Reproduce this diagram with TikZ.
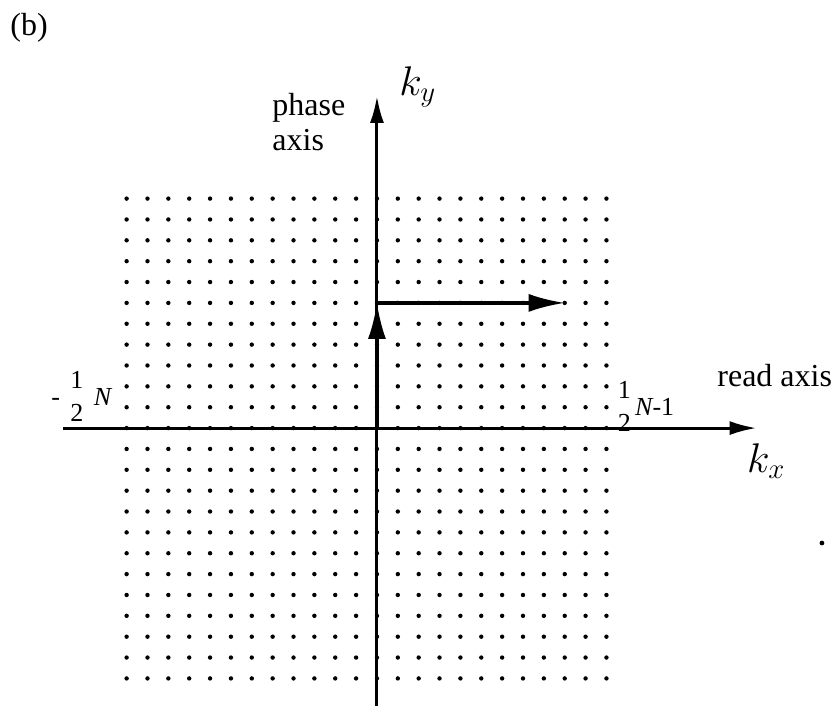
\documentclass[tikz,border=0pt]{standalone}
\usepackage{amsmath}
\usepackage{fontspec}
\setmainfont{Liberation Serif}
\usepackage{tikz}
\usetikzlibrary{arrows.meta}

\tikzset{
  kaxis/.style={line width=1.5pt,-{Latex[length=13.5pt,width=7pt]}},
  kstep/.style={line width=1.6pt,-{Latex[length=18pt,width=9pt]}},
  lbltext/.style={inner sep=0pt,font=\fontsize{16}{17.5}\selectfont},
  klbl/.style={inner sep=0pt,font=\fontsize{20}{22}\selectfont},
  edgelbl/.style={inner sep=0pt,font=\fontsize{13}{14}\selectfont},
}
\newcommand{\halfN}{\genfrac{}{}{0pt}{0}{\text{1}}{\text{2}}}

\begin{document}
\begin{tikzpicture}[>=Latex,x=10.43pt,y=10.43pt]
  \useasboundingbox (-18.07,-13.33) rectangle (22.10,20.52);
  % k-space samples, N=24 per direction
  \foreach \i in {-12,...,11}
    \foreach \j in {-12,...,11}
      \fill (\i,\j) circle (1.1pt);
  % axes
  \coordinate (O) at (0,0);
  \coordinate (xl) at (-15.05,0);
  \coordinate (xr) at (18.2,0);
  \coordinate (yb) at (0,-13.33);
  \coordinate (yt) at (0,15.92);
  \draw[kaxis] (xl) -- (xr);
  \draw[kaxis] (yb) -- (yt);
  % phase step, then read out
  \coordinate (p6) at (0,6);
  \coordinate (p9) at (9,6);
  \draw[kstep] (O) -- (p6);
  \draw[kstep] (p6) -- (p9);
  % labels
  \node[lbltext,anchor=base west] (lbl) at (-17.59,18.84) {(b)};
  \node[lbltext,anchor=west,align=left] (phase) at (-5.03,14.69) {phase\\axis};
  \node[lbltext,anchor=base west] (read) at (16.30,1.97) {read axis};
  \node[klbl,anchor=base west] (ky) at (1.05,15.96) {$k_y$};
  \node[klbl,anchor=base west] (kx) at (17.73,-2.11) {$k_x$};
  \node[edgelbl,anchor=base west] (nmin) at (-15.63,1.10) {$\text{-}\hspace{4pt}\halfN\hspace{4pt}\text{\itshape N}$};
  \node[edgelbl,anchor=base west] (nmax) at (11.41,0.62) {$\halfN\hspace{1pt}\text{\itshape N}\text{-1}$};
  \fill (21.33,-5.51) circle (1.2pt);
\end{tikzpicture}
\end{document}
